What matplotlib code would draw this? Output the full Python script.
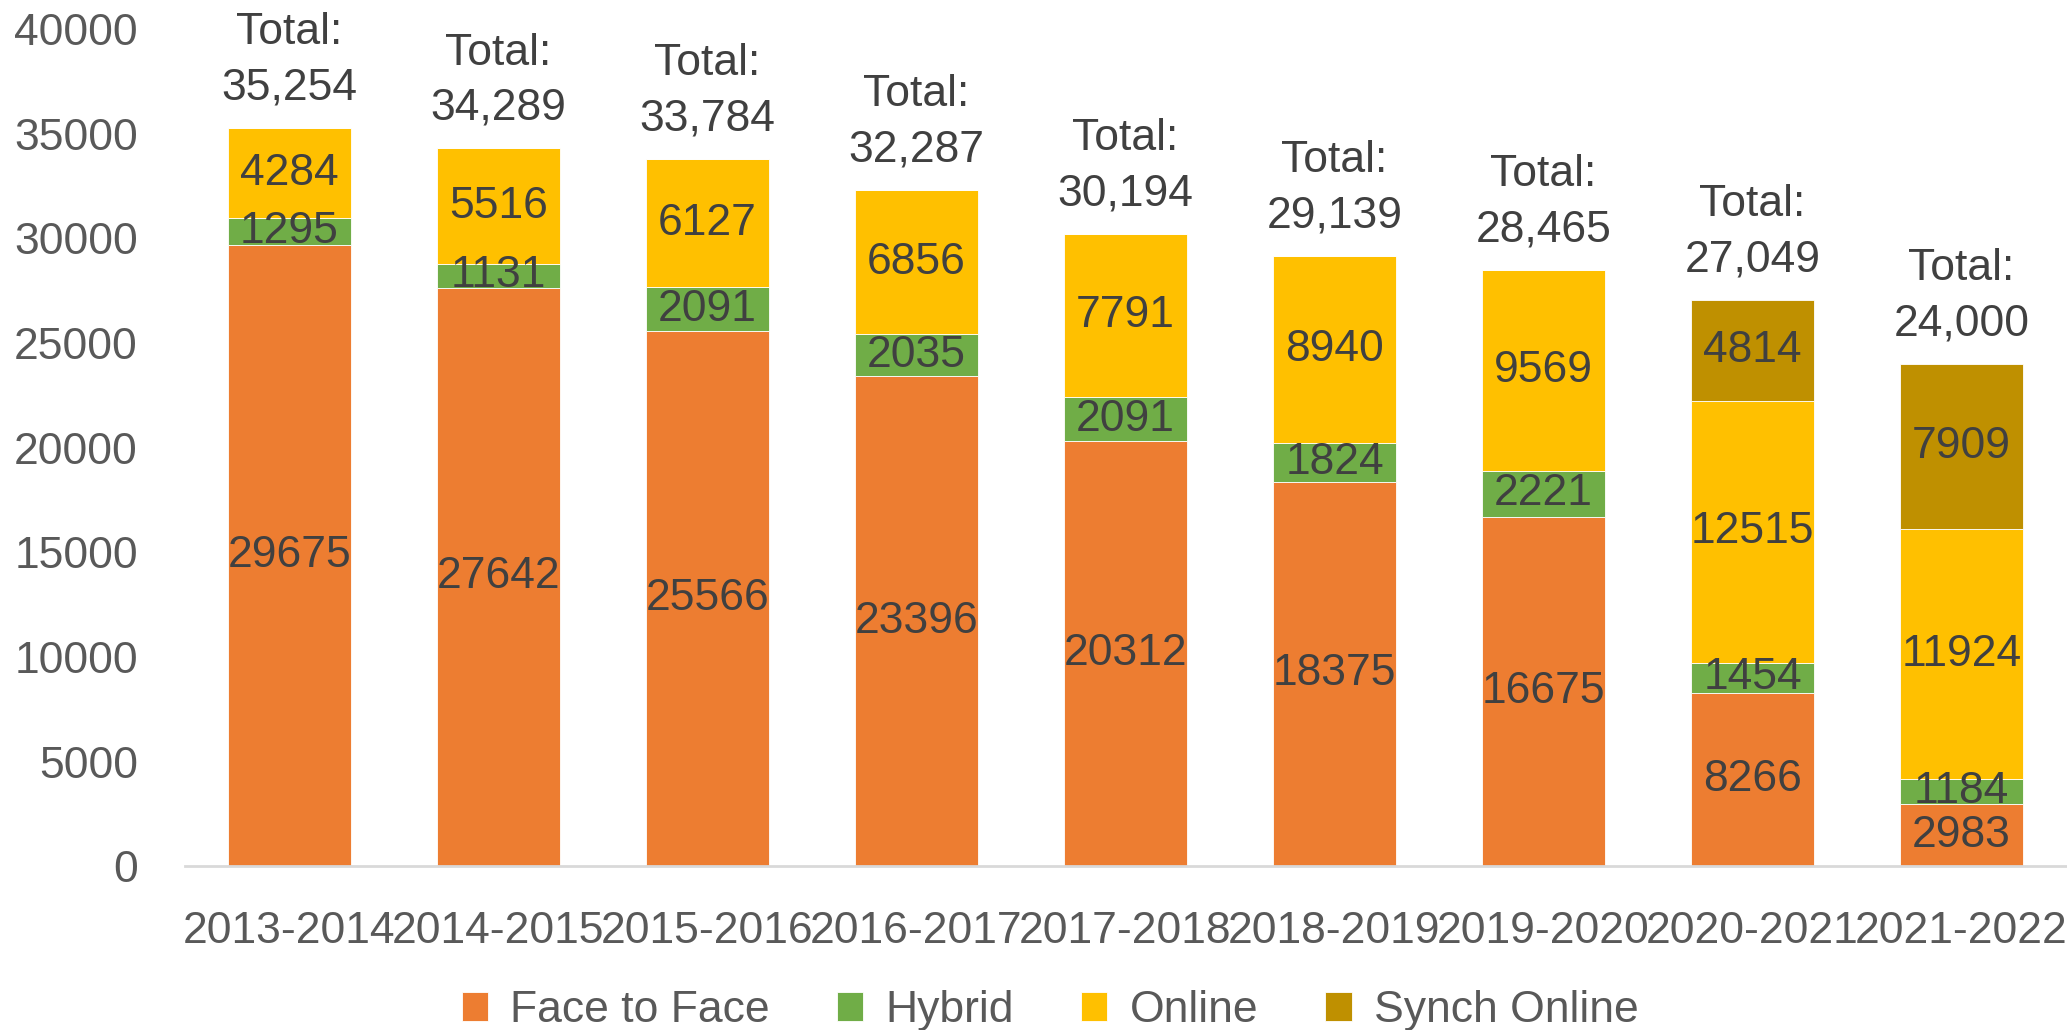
import matplotlib
matplotlib.use("Agg")
from matplotlib import pyplot as plt
import numpy as np

# enrollment by modality per academic year
years = ["2013-2014", "2014-2015", "2015-2016", "2016-2017", "2017-2018",
         "2018-2019", "2019-2020", "2020-2021", "2021-2022"]
face_to_face = [29675, 27642, 25566, 23396, 20312, 18375, 16675, 8266, 2983]
hybrid = [1295, 1131, 2091, 2035, 2091, 1824, 2221, 1454, 1184]
online = [4284, 5516, 6127, 6856, 7791, 8940, 9569, 12515, 11924]
synch_online = [0, 0, 0, 0, 0, 0, 0, 4814, 7909]
totals = [35254, 34289, 33784, 32287, 30194, 29139, 28465, 27049, 24000]

series = [("Face to Face", face_to_face, "#ED7D31"),
          ("Hybrid", hybrid, "#70AD47"),
          ("Online", online, "#FFC000"),
          ("Synch Online", synch_online, "#BF9000")]

plt.rcParams['font.family'] = ['Liberation Sans', 'DejaVu Sans']
FS = 32

fig = plt.figure(figsize=(20.67, 10.30), dpi=100)
ax = fig.add_axes([0.0895, 0.159, 0.910, 0.813])

x = np.arange(len(years))
bottom = np.zeros(len(years))
for name, vals, col in series:
    vals = np.array(vals, dtype=float)
    ax.bar(x, vals, 0.59, bottom=bottom, color=col, label=name,
           edgecolor="white", linewidth=0.6)
    for xi, b, v in zip(x, bottom, vals):
        if v > 0:
            ax.text(xi, b + v / 2, str(int(v)), ha="center", va="center",
                    fontsize=FS, color="#404040")
    bottom += vals

for xi, t in zip(x, totals):
    ax.annotate("Total:\n{:,}".format(t), (xi, t), xytext=(0, 14),
                textcoords="offset points", ha="center", va="bottom",
                fontsize=FS, color="#404040", linespacing=1.45)

ax.set_xlim(-0.5, 8.5)
ax.set_ylim(0, 40000)
ax.set_yticks(range(0, 40001, 5000))
ax.set_xticks(x)
ax.set_xticklabels(years)
ax.tick_params(axis="y", length=0, pad=34, labelsize=FS, labelcolor="#595959")
ax.tick_params(axis="x", length=0, pad=32, labelsize=FS, labelcolor="#595959")
for s in ["left", "right", "top"]:
    ax.spines[s].set_visible(False)
ax.spines["bottom"].set_color("#D9D9D9")
ax.spines["bottom"].set_linewidth(2)

fig.legend(loc="lower center", bbox_to_anchor=(0.508, -0.04), ncol=4, frameon=False,
           fontsize=FS, labelcolor="#595959", handlelength=0.6, handleheight=0.6,
           handletextpad=0.5, columnspacing=1.5)

plt.savefig("out.png", dpi=100)
